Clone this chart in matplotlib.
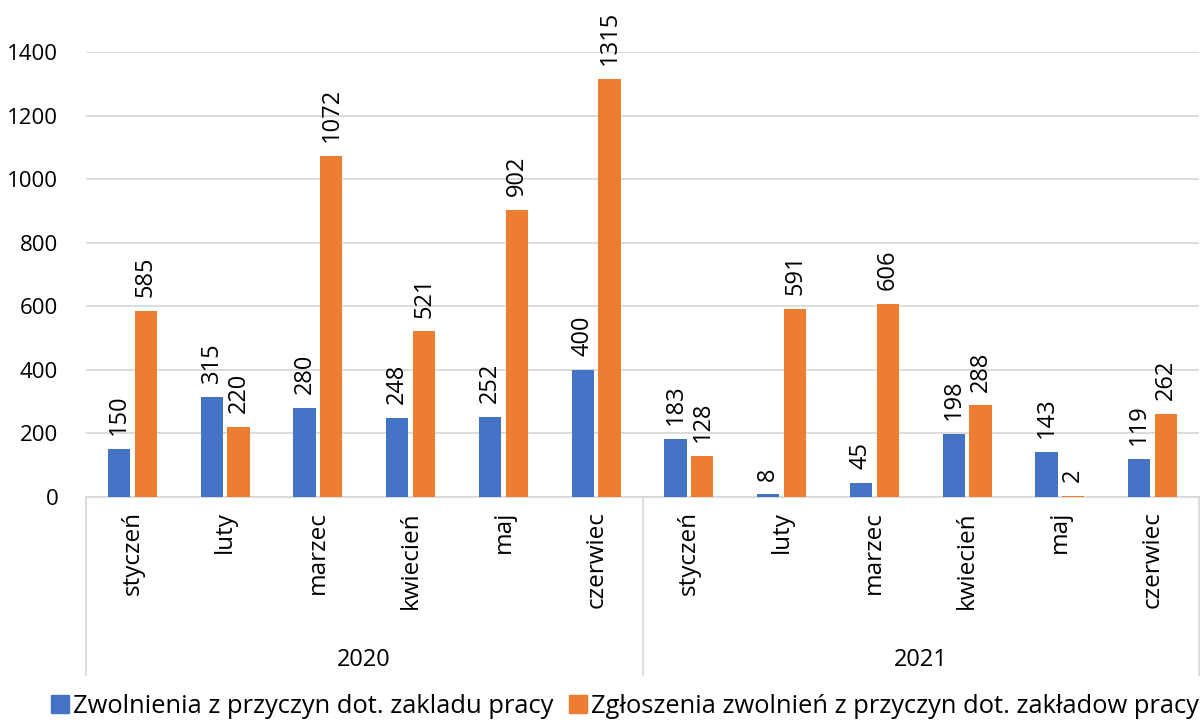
import matplotlib
matplotlib.use("Agg")
import matplotlib.pyplot as plt
import matplotlib.transforms as mtransforms
from matplotlib.patches import Patch

# --- data -------------------------------------------------------------------
months = ["styczeń", "luty", "marzec", "kwiecień", "maj", "czerwiec",
          "styczeń", "luty", "marzec", "kwiecień", "maj", "czerwiec"]
years = ["2020", "2021"]
zwolnienia = [150, 315, 280, 248, 252, 400, 183, 8, 45, 198, 143, 119]
zgloszenia = [585, 220, 1072, 521, 902, 1315, 128, 591, 606, 288, 2, 262]
series_names = ["Zwolnienia z przyczyn dot. zakladu pracy",
                "Zgłoszenia zwolnień z przyczyn dot. zakładow pracy"]

BLUE = "#4472C4"
ORANGE = "#ED7D31"
GRID = "#D9D9D9"
INK = "#000000"

plt.rcParams.update({"font.family": ["Open Sans", "DejaVu Sans"], "font.size": 16})

W, H = 1204, 726
fig = plt.figure(figsize=(W / 100, H / 100), dpi=100)
ax = fig.add_axes([86 / W, 1 - 497 / H, (1199 - 86) / W, (497 - 52) / H])

x = list(range(len(months)))
bw, off = 0.24, 0.145
b1 = ax.bar([i - off for i in x], zwolnienia, width=bw, color=BLUE, zorder=3)
b2 = ax.bar([i + off for i in x], zgloszenia, width=bw, color=ORANGE, zorder=3)

for bars, vals in ((b1, zwolnienia), (b2, zgloszenia)):
    for r, v in zip(bars, vals):
        ax.annotate(f"{v}", (r.get_x() + r.get_width() / 2, v),
                    xytext=(0, 10), textcoords="offset points",
                    rotation=90, ha="center", va="bottom",
                    fontsize=17, color=INK, annotation_clip=False)

ax.set_xlim(-0.5, len(months) - 0.5)
ax.set_ylim(0, 1400)
ax.set_yticks(range(0, 1401, 200))
ax.yaxis.grid(True, color=GRID, lw=1.3, zorder=0)
ax.tick_params(axis="y", length=0, pad=20, labelcolor=INK, labelsize=16)
for s in ("top", "right", "left"):
    ax.spines[s].set_visible(False)
ax.spines["bottom"].set_color(GRID)
ax.spines["bottom"].set_linewidth(1.3)

ax.set_xticks(x)
ax.set_xticklabels(months, rotation=90, va="top", ha="center", fontsize=17.5)
ax.tick_params(axis="x", length=0, pad=10, labelcolor=INK)

# year group labels and separators
trans = mtransforms.blended_transform_factory(ax.transData, ax.transAxes)
n = len(months) // len(years)
for k, yr in enumerate(years):
    ax.text(k * n + (n - 1) / 2, -0.366, yr, transform=trans,
            ha="center", va="center", fontsize=17, color=INK)
for k in range(len(years) + 1):
    xb = k * n - 0.5
    ax.plot([xb, xb], [0, -0.40], transform=trans, color=GRID, lw=1.3,
            clip_on=False)

handles = [Patch(color=BLUE), Patch(color=ORANGE)]
fig.legend(handles, series_names, loc="lower center", bbox_to_anchor=(0.519, -0.022),
           ncol=2, frameon=False, handlelength=0.7, handleheight=0.7,
           handletextpad=0.15, columnspacing=0.6, fontsize=18.4)

fig.savefig("out.png", dpi=100)
